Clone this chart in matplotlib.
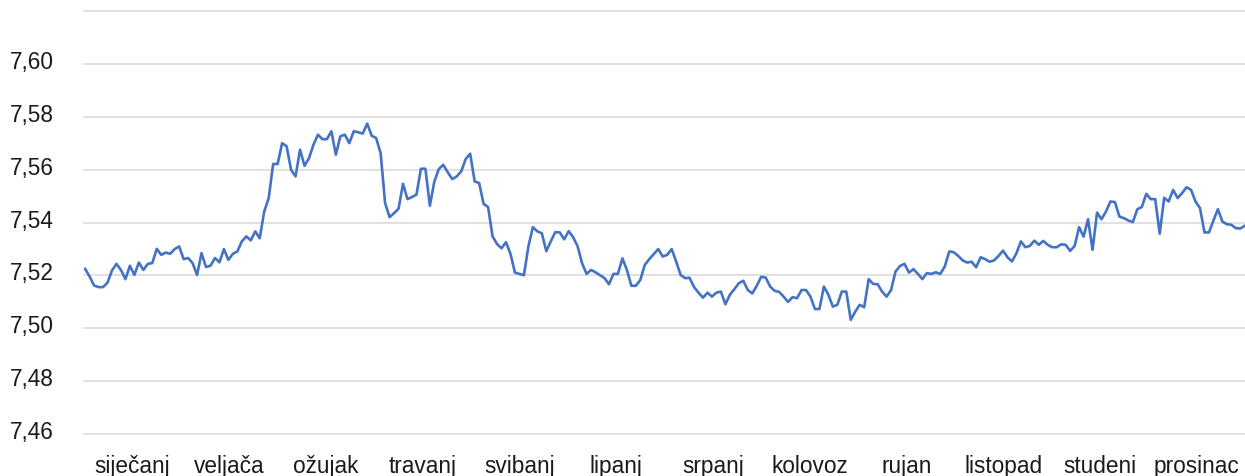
import matplotlib
matplotlib.use("Agg")
import matplotlib.pyplot as plt
import matplotlib.transforms as mtransforms
import numpy as np

months = ["siječanj", "veljača", "ožujak", "travanj", "svibanj", "lipanj",
          "srpanj", "kolovoz", "rujan", "listopad", "studeni", "prosinac"]

y_ticks = [7.46, 7.48, 7.50, 7.52, 7.54, 7.56, 7.58, 7.60, 7.62]
y_labels = ["7,46", "7,48", "7,50", "7,52", "7,54", "7,56", "7,58", "7,60", ""]

rates_part1 = [
    7.5225, 7.5196, 7.5162, 7.5156, 7.5156, 7.5173, 7.5219, 7.5244, 7.5221, 7.5186,
    7.5237, 7.5202, 7.5249, 7.5221, 7.5244, 7.5247, 7.5301, 7.5278, 7.5287, 7.5282,
    7.5300, 7.5310, 7.5262, 7.5266, 7.5247, 7.5202, 7.5285, 7.5232, 7.5237, 7.5266,
    7.5250, 7.5300, 7.5259, 7.5282, 7.5291, 7.5329, 7.5348, 7.5333, 7.5367, 7.5341,
    7.5442, 7.5493, 7.5622, 7.5622, 7.5701, 7.5689, 7.5600, 7.5575, 7.5676, 7.5615,
    7.5644, 7.5695, 7.5733]
rates_part2 = [
    7.5716, 7.5716, 7.5746, 7.5657, 7.5727, 7.5733, 7.5701, 7.5746, 7.5742, 7.5737,
    7.5775, 7.5729, 7.5720, 7.5663, 7.5474, 7.5421, 7.5436, 7.5453, 7.5547, 7.5489,
    7.5497, 7.5506, 7.5604, 7.5604, 7.5464, 7.5556, 7.5603, 7.5619, 7.5590, 7.5565,
    7.5575, 7.5594, 7.5641, 7.5661, 7.5556, 7.5550, 7.5471, 7.5459, 7.5348, 7.5319,
    7.5303, 7.5326, 7.5282, 7.5211, 7.5206, 7.5201, 7.5310, 7.5383, 7.5367, 7.5360,
    7.5292, 7.5329]
rates_part3 = [
    7.5364, 7.5363, 7.5337, 7.5368, 7.5345, 7.5310, 7.5246, 7.5206, 7.5221, 7.5212,
    7.5201, 7.5190, 7.5167, 7.5206, 7.5206, 7.5265, 7.5221, 7.5161, 7.5161, 7.5183,
    7.5240, 7.5262, 7.5281, 7.5300, 7.5272, 7.5278, 7.5300, 7.5253, 7.5202, 7.5190,
    7.5191, 7.5156, 7.5135, 7.5116, 7.5135, 7.5120, 7.5135, 7.5139, 7.5091, 7.5127,
    7.5148, 7.5171, 7.5180, 7.5145, 7.5132, 7.5161, 7.5195, 7.5192, 7.5158, 7.5142,
    7.5138, 7.5120]
rates_part4 = [
    7.5100, 7.5118, 7.5114, 7.5145, 7.5145, 7.5120, 7.5073, 7.5073, 7.5158, 7.5127,
    7.5082, 7.5089, 7.5139, 7.5139, 7.5032, 7.5063, 7.5089, 7.5080, 7.5186, 7.5168,
    7.5167, 7.5139, 7.5120, 7.5145, 7.5215, 7.5236, 7.5244, 7.5211, 7.5224, 7.5206,
    7.5186, 7.5209, 7.5206, 7.5212, 7.5206, 7.5234, 7.5291, 7.5288, 7.5274, 7.5257,
    7.5249, 7.5252, 7.5231, 7.5269, 7.5262, 7.5252, 7.5257, 7.5274, 7.5294, 7.5269,
    7.5253, 7.5284]
rates_part5 = [
    7.5329, 7.5307, 7.5312, 7.5332, 7.5316, 7.5331, 7.5316, 7.5307, 7.5307, 7.5318,
    7.5316, 7.5293, 7.5312, 7.5383, 7.5347, 7.5413, 7.5297, 7.5438, 7.5413, 7.5442,
    7.5480, 7.5478, 7.5423, 7.5417, 7.5408, 7.5402, 7.5451, 7.5459, 7.5509, 7.5489,
    7.5489, 7.5358, 7.5494, 7.5480, 7.5524, 7.5493, 7.5512, 7.5534, 7.5524, 7.5480,
    7.5455, 7.5363, 7.5363, 7.5408, 7.5451, 7.5404, 7.5394, 7.5392, 7.5379, 7.5378,
    7.5388]

rates = rates_part1 + rates_part2 + rates_part3 + rates_part4 + rates_part5
x = np.arange(len(rates))

plt.rcParams['font.family'] = ['Liberation Sans', 'DejaVu Sans']

W, H = 1245, 476
fig = plt.figure(figsize=(W / 100, H / 100), dpi=100)
ax = fig.add_axes([84 / W, (H - 434) / H, (W - 84) / W, (434 - 11.3) / H])

ax.plot(x, rates, color="#4472C4", linewidth=1.9, solid_joinstyle="round")

x0, x1 = -0.25, len(rates) - 1 + 0.05
ax.set_xlim(x0, x1)
ax.set_ylim(7.46, 7.62)

ax.set_yticks(y_ticks)
ax.set_yticklabels(y_labels)
tick_pos = [x0 + (k + 0.5) / 12 * (x1 - x0) for k in range(12)]
ax.set_xticks(tick_pos)
ax.set_xticklabels(months)

ax.grid(axis="y", color="#d9d9d9", linewidth=1.1)
for gl in ax.get_ygridlines():
    gl.set_clip_on(False)
ax.set_axisbelow(True)
for s in ax.spines.values():
    s.set_visible(False)
ax.tick_params(axis="both", length=0, labelsize=16.3, colors="#1a1a1a")
ax.tick_params(axis="y", pad=22)
ax.tick_params(axis="x", pad=15)

offset = mtransforms.ScaledTranslation(0, 4 / 100, fig.dpi_scale_trans)
for lbl in ax.get_yticklabels():
    lbl.set_transform(lbl.get_transform() + offset)

fig.savefig("out.png", dpi=100)
